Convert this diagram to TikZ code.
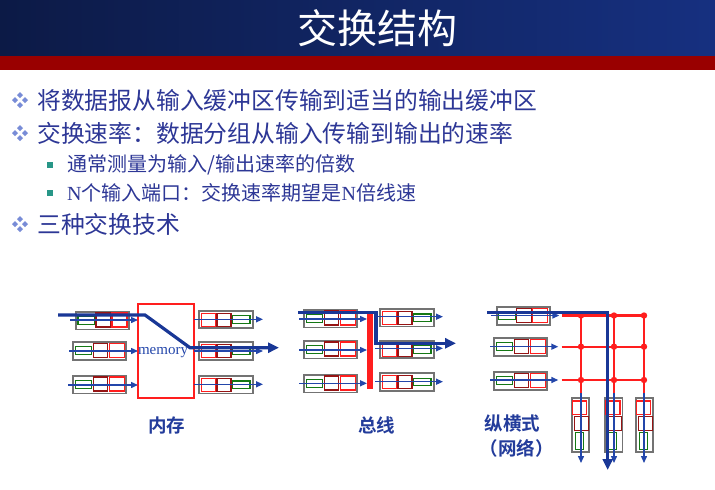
\documentclass[tikz,border=0pt]{standalone}
\usepackage{fontspec}
\setmainfont{Liberation Serif}
\newfontfamily\cjk[BoldFont={Noto Sans CJK SC Bold}]{Noto Sans CJK SC}
\usetikzlibrary{arrows.meta}

\definecolor{txtblue}{RGB}{45,55,150}
\definecolor{lblblue}{RGB}{35,60,155}
\definecolor{arrblue}{RGB}{35,70,170}
\definecolor{thickblue}{RGB}{25,55,150}
\definecolor{qgreen}{RGB}{20,120,20}
\definecolor{qdred}{RGB}{150,20,20}
\definecolor{qred}{RGB}{255,30,30}
\definecolor{qgray}{RGB}{115,115,115}
\definecolor{hdred}{RGB}{153,0,0}
\definecolor{hdleft}{RGB}{12,26,70}
\definecolor{hdmid}{RGB}{26,58,150}
\definecolor{hdright}{RGB}{22,48,128}
\definecolor{dmd}{RGB}{120,140,215}
\definecolor{sqteal}{RGB}{40,150,135}

\tikzset{
  thinarrow/.style={arrblue,line width=1.4pt,-{Triangle[length=7pt,width=6pt]}},
  thickarrow/.style={thickblue,line width=3.2pt,-{Triangle[length=11pt,width=10pt]}},
  boxline/.style={line width=1.3pt},
  grayq/.style={qgray,line width=1.7pt,fill=white},
  redwire/.style={qred,line width=2.4pt},
  bullet1/.style={anchor=west,text=txtblue,font=\cjk\fontsize{23.8}{26}\selectfont,inner sep=0pt},
  bullet2/.style={anchor=west,text=txtblue,font=\cjk\fontsize{20}{23}\selectfont,inner sep=0pt},
  caption/.style={text=lblblue,font=\cjk\bfseries\fontsize{18.5}{21}\selectfont,inner sep=0pt},
  % input queue: green, dark red, red cells (left to right)
  inq/.pic={
    \draw[grayq] (0,0) rectangle (53,17.5);
    \draw[qgreen,boxline] (2,4.5) rectangle (18.5,12.5);
    \draw[qdred,boxline] (20,1) rectangle (34.5,15);
    \draw[qred,boxline] (36,1) rectangle (51,15);
  },
  % output queue: red, dark red, green cells (left to right)
  outq/.pic={
    \draw[grayq] (0,0) rectangle (54,17.5);
    \draw[qred,boxline] (2.5,2.5) rectangle (16.5,15.5);
    \draw[qdred,boxline] (18,2.5) rectangle (32,15.5);
    \draw[qgreen,boxline] (33.5,5) rectangle (51,12.5);
  },
  % vertical output queue of the crossbar
  voutq/.pic={
    \draw[grayq] (0,0) rectangle (17.6,53.4);
    \draw[qred,boxline] (1,2.7) rectangle (15,16);
    \draw[qdred,boxline] (2.6,18.4) rectangle (16.6,32.4);
    \draw[qgreen,boxline] (3.6,34.4) rectangle (11.6,51);
  },
  dmdpart/.style={fill=dmd},
}

\newcommand{\dmdbullet}[2]{%
  \foreach \dx/\dy in {0/-5,0/5,-5/0,5/0}
    \fill[dmdpart] ({#1+\dx},{#2+\dy-3}) -- ({#1+\dx+3},{#2+\dy}) -- ({#1+\dx},{#2+\dy+3}) -- ({#1+\dx-3},{#2+\dy}) -- cycle;}
\newcommand{\sqbullet}[2]{\fill[sqteal] ({#1-3},{#2-3}) rectangle ({#1+3},{#2+3});}

\begin{document}
\begin{tikzpicture}[x=1pt,y=-1pt]
\useasboundingbox (0,0) rectangle (715,490);
\fill[white] (0,0) rectangle (715,490);

% header band
\shade[left color=hdleft,middle color=hdmid,right color=hdright] (0,0) rectangle (715,56);
\fill[hdred] (0,56) rectangle (715,70);
\node[text=white,font=\cjk\fontsize{40}{44}\selectfont,inner sep=0pt] (title) at (377,28) {交换结构};

% bullet list
\dmdbullet{20}{100}
\node[bullet1] (b1) at (37,100) {将数据报从输入缓冲区传输到适当的输出缓冲区};
\dmdbullet{20}{133}
\node[bullet1] (b2) at (37,133) {交换速率：数据分组从输入传输到输出的速率};
\sqbullet{50}{165}
\node[bullet2] (b3) at (67,165) {通常测量为输入/输出速率的倍数};
\sqbullet{50}{193}
\node[bullet2] (b4) at (67,193) {{\rmfamily N}个输入端口：交换速率期望是{\rmfamily N}倍线速};
\dmdbullet{20}{224}
\node[bullet1] (b5) at (37,224) {三种交换技术};

% ---------- switching via memory ----------
\pic at (76,312) {inq};
\pic at (73.3,342.3) {inq};
\pic at (73.3,376) {inq};
\draw[thinarrow] (70,320) -- (138,320);
\draw[thinarrow] (69,351) -- (138,351);
\draw[thinarrow] (68,385) -- (138,385);
\draw[qred,line width=2.2pt] (137.7,304) rectangle (194,398.3);
\node[text=arrblue,font=\rmfamily\fontsize{15}{17}\selectfont,inner sep=0pt] (mem) at (163,353) {memory};
\pic at (199,310.7) {outq};
\pic at (199,342.3) {outq};
\pic at (199,376) {outq};
\draw[thinarrow] (194,319.3) -- (263,319.3);
\draw[thinarrow] (194,351) -- (263,351);
\draw[thinarrow] (194,384.3) -- (263,384.3);
\coordinate (mA) at (58,315);
\coordinate (mB) at (145,315);
\coordinate (mC) at (190,347.7);
\coordinate (mD) at (279,347.7);
\draw[thickarrow] (mA) -- (mB) -- (mC) -- (mD);
\node[caption] (capmem) at (166.7,425) {内存};

% ---------- switching via bus ----------
\pic at (304.3,310) {inq};
\pic at (304.3,341) {inq};
\pic at (304.3,375) {inq};
\draw[thinarrow] (299,319) -- (367,319);
\draw[thinarrow] (299,350) -- (367,350);
\draw[thinarrow] (299,383.3) -- (367,383.3);
\fill[qred] (367.3,310.7) rectangle (372.7,389.3);
\pic at (380,309) {outq};
\pic at (380,340.7) {outq};
\pic at (380,373.3) {outq};
\draw[thinarrow] (375,316.7) -- (443,316.7);
\draw[thinarrow] (375,348.3) -- (443,348.3);
\draw[thinarrow] (375,381.7) -- (443,381.7);
\coordinate (bA) at (298,312.7);
\coordinate (bB) at (376,312.7);
\coordinate (bC) at (376,343.3);
\coordinate (bD) at (456,343.3);
\draw[thickarrow] (bA) -- (bB) -- (bC) -- (bD);
\node[caption] (capbus) at (376.7,425) {总线};

% ---------- switching via crossbar ----------
\pic at (496.7,307.3) {inq};
\pic at (494.3,338.3) {inq};
\pic at (494.3,372.3) {inq};
\draw[thinarrow] (490.7,315.5) -- (559.3,315.5);
\draw[thinarrow] (490,346.7) -- (558.3,346.7);
\draw[thinarrow] (490,380) -- (558.3,380);
\foreach \yy in {315.5,346.7,380}
  \draw[redwire] (561.7,\yy) -- (646,\yy);
\foreach \xx in {581,614,644}
  \draw[redwire] (\xx,315.5) -- (\xx,398.3);
\foreach \xx in {581,614,644}
  \foreach \yy in {315.5,346.7,380}
    \fill[qred] (\xx,\yy) circle (3.2);
\pic at (571.7,398.3) {voutq};
\pic at (605,398.3) {voutq};
\pic at (635.7,398.3) {voutq};
\draw[thinarrow] (581,393) -- (581,463);
\draw[thinarrow] (614,393) -- (614,463);
\draw[thinarrow] (644,393) -- (644,463);
\coordinate (xA) at (487.3,312.3);
\coordinate (xB) at (607.7,312.3);
\coordinate (xC) at (607.7,470);
\draw[thickarrow] (xA) -- (xB) -- (xC);
\node[caption] (capx1) at (512.5,423) {纵横式};
\node[caption] (capx2) at (516.7,448) {（网络）};
\end{tikzpicture}
\end{document}
